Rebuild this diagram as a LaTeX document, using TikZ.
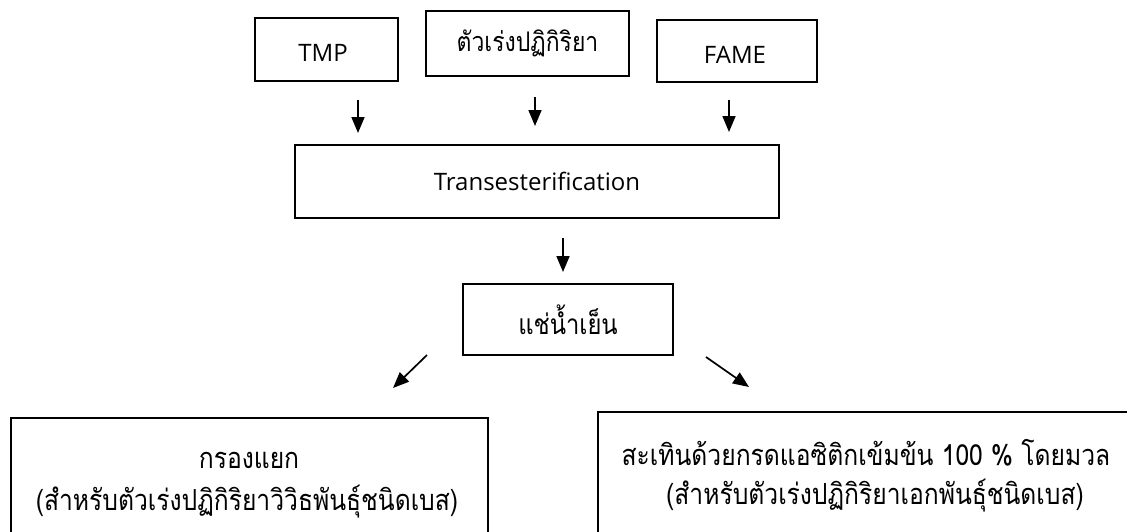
\documentclass[tikz,border=0pt]{standalone}
\usepackage{fontspec}
\setmainfont{Open Sans}
\newfontfamily\thai[Script=Thai,FakeStretch=0.85]{Loma}
\usetikzlibrary{arrows.meta}
\begin{document}
\begin{tikzpicture}[x=1pt,y=-1pt,
  box/.style={draw, line width=1.3pt, inner sep=0pt, align=center},
  lat/.style={font=\fontsize{24}{28}\selectfont},
  thbig/.style={font=\thai\fontsize{29}{40}\selectfont},
  arr/.style={line width=1.7pt, -{Triangle[width=13pt,length=16pt]}}]
\useasboundingbox (0,0) rectangle (1127,531);
\clip (0,0) rectangle (1127,531);
% boxes
\node[box, minimum width=143pt, minimum height=63pt] (tmp) at (326.5,49.5) {};
\node[lat] (tmpT) at (323,53) {TMP};
\node[box, font=\thai\fontsize{27}{30}\selectfont, minimum width=203pt, minimum height=65pt] (cat) at (527.5,43.5) {ตัวเร่งปฏิกิริยา};
\node[box, minimum width=160pt, minimum height=62pt] (fame) at (737,51) {};
\node[lat] (fameT) at (735,55) {FAME};
\node[box, lat, minimum width=484pt, minimum height=73pt] (trans) at (537,181.5) {Transesterification};
\node[box, font=\thai\fontsize{28}{30}\selectfont, minimum width=210pt, minimum height=71pt] (cold) at (568,319.5) {แช่น้ำเย็น};
\node[box, minimum width=477pt, minimum height=200pt] (filt) at (249.5,518) {};
\node[box, minimum width=600pt, minimum height=200pt] (neut) at (898,512) {};
\node[thbig] (filtA) at (249,460) {กรองแยก};
\node[thbig] (filtB) at (247,502) {(สำหรับตัวเร่งปฏิกิริยาวิวิธพันธุ์ชนิดเบส)};
\node[thbig] (neutA) at (866,453) {สะเทินด้วยกรดแอซิติกเข้มข้น 100 \% โดยมวล};
\node[thbig] (neutB) at (875,496) {(สำหรับตัวเร่งปฏิกิริยาเอกพันธุ์ชนิดเบส)};
% arrow end points
\coordinate (a1s) at (358,100);  \coordinate (a1e) at (358,133);
\coordinate (a2s) at (535,97);   \coordinate (a2e) at (535,126);
\coordinate (a3s) at (729,100);  \coordinate (a3e) at (729,132);
\coordinate (a4s) at (563,238);  \coordinate (a4e) at (563,272);
\coordinate (a5s) at (427,355);  \coordinate (a5e) at (393,388);
\coordinate (a6s) at (706,357);  \coordinate (a6e) at (749,387);
\draw[arr] (a1s) -- (a1e);
\draw[arr] (a2s) -- (a2e);
\draw[arr] (a3s) -- (a3e);
\draw[arr] (a4s) -- (a4e);
\draw[arr] (a5s) -- (a5e);
\draw[arr] (a6s) -- (a6e);
\end{tikzpicture}
\end{document}
